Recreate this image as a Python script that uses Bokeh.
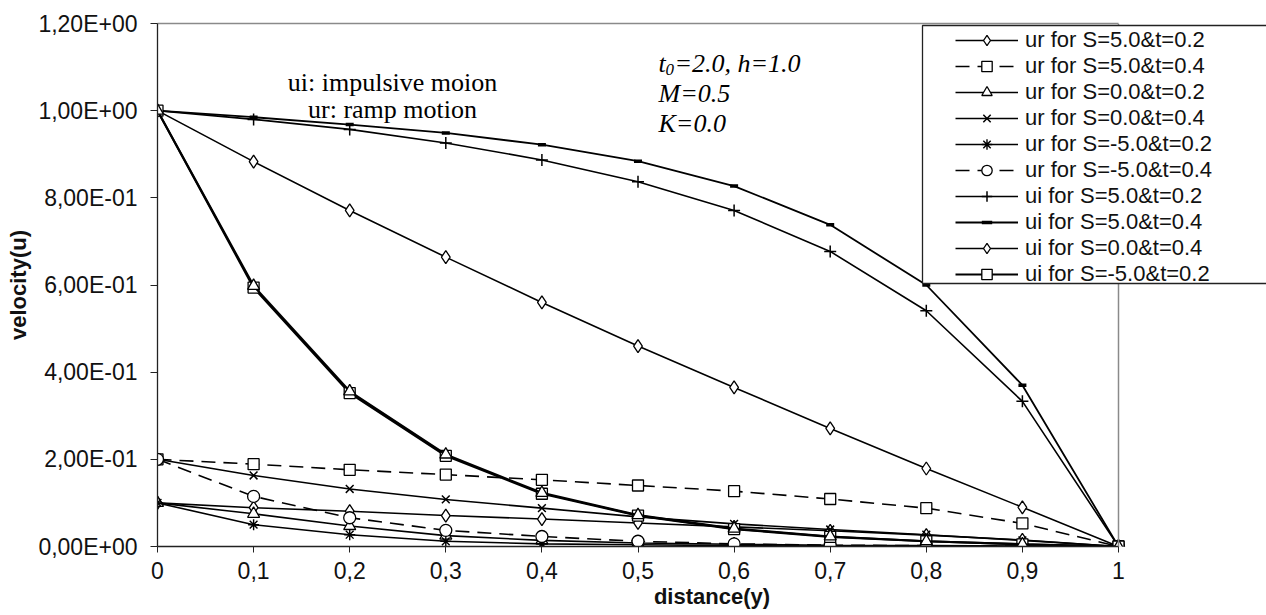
import math
from bokeh.plotting import figure
from bokeh.models import (Range1d, FixedTicker, LinearAxis, Span, Legend, LegendItem,
                          Label, BoxAnnotation, Title)
from bokeh.embed import file_html
from bokeh.resources import INLINE

# ---------------- data ----------------
distance = [0.0, 0.1, 0.2, 0.3, 0.4, 0.5, 0.6, 0.7, 0.8, 0.9, 1.0]
x_tick_labels = ["0", "0,1", "0,2", "0,3", "0,4", "0,5", "0,6", "0,7", "0,8", "0,9", "1"]
y_ticks = [0.0, 0.2, 0.4, 0.6, 0.8, 1.0, 1.2]
y_tick_labels = ["0,00E+00", "2,00E-01", "4,00E-01", "6,00E-01", "8,00E-01", "1,00E+00", "1,20E+00"]

ur_s5_t02 = [0.100, 0.089, 0.081, 0.071, 0.063, 0.054, 0.045, 0.036, 0.026, 0.015, 0.0]
ur_s5_t04 = [0.200, 0.189, 0.176, 0.165, 0.153, 0.140, 0.127, 0.109, 0.088, 0.053, 0.0]
ur_s0_t02 = [0.100, 0.075, 0.047, 0.025, 0.014, 0.008, 0.005, 0.003, 0.002, 0.001, 0.0]
ur_s0_t04 = [0.200, 0.163, 0.132, 0.108, 0.088, 0.068, 0.052, 0.039, 0.027, 0.014, 0.0]
ur_sm5_t02 = [0.100, 0.050, 0.027, 0.012, 0.006, 0.004, 0.002, 0.001, 0.001, 0.0, 0.0]
ur_sm5_t04 = [0.200, 0.115, 0.066, 0.037, 0.023, 0.012, 0.006, 0.003, 0.002, 0.001, 0.0]
ui_s5_t02 = [1.0, 0.980, 0.957, 0.926, 0.887, 0.837, 0.771, 0.677, 0.541, 0.333, 0.0]
ui_s5_t04 = [1.0, 0.985, 0.968, 0.949, 0.922, 0.884, 0.827, 0.738, 0.600, 0.370, 0.0]
ui_s0_t04 = [1.0, 0.883, 0.771, 0.664, 0.560, 0.460, 0.365, 0.271, 0.179, 0.090, 0.0]
ui_sm5_t02 = [1.0, 0.594, 0.352, 0.208, 0.121, 0.071, 0.040, 0.022, 0.012, 0.005, 0.0]
# an extra triangle series drawn on top of the last one (not listed in the legend)
ui_extra_tri = [1.0, 0.598, 0.356, 0.211, 0.123, 0.072, 0.041, 0.023, 0.012, 0.005, 0.0]

series_labels = ["ur for S=5.0&t=0.2", "ur for S=5.0&t=0.4", "ur for S=0.0&t=0.2",
                 "ur for S=0.0&t=0.4", "ur for S=-5.0&t=0.2", "ur for S=-5.0&t=0.4",
                 "ui for S=5.0&t=0.2", "ui for S=5.0&t=0.4", "ui for S=0.0&t=0.4",
                 "ui for S=-5.0&t=0.2"]
series_values = [ur_s5_t02, ur_s5_t04, ur_s0_t02, ur_s0_t04, ur_sm5_t02, ur_sm5_t04,
                 ui_s5_t02, ui_s5_t04, ui_s0_t04, ui_sm5_t02]

# ---------------- styles ----------------
series_markers = ["diamond", "square", "triangle", "x", "asterisk", "circle",
                  "cross", "dash", "diamond", "square"]
series_dash = ["solid", "14 8", "solid", "solid", "solid", "14 8",
               "solid", "solid", "solid", "solid"]
series_width = [1.6, 1.6, 1.6, 1.6, 1.6, 1.6, 1.6, 1.8, 1.6, 2.2]
marker_size = {"diamond": 13, "square": 11, "triangle": 12, "circle": 12, "x": 11,
               "cross": 12, "dash": 8, "asterisk": 11}
marker_lw = {"diamond": 1.3, "square": 1.3, "triangle": 1.3, "circle": 1.3, "x": 1.5,
             "cross": 1.5, "dash": 3.5, "asterisk": 1.4}

# ---------------- layout (pixels) ----------------
W, H = 1266, 615
FL, FT, FB = 157, 23, 546      # frame left / top / bottom
X1PX = 1118                    # pixel of distance = 1
x_end = 1 + (W - X1PX) / (X1PX - FL)

p = figure(width=W, height=H, x_range=Range1d(0, x_end), y_range=Range1d(0, 1.2),
           output_backend="svg", toolbar_location=None,
           min_border_left=FL, min_border_right=0, min_border_top=FT,
           min_border_bottom=H - FB)
p.outline_line_color = None
p.xgrid.visible = False
p.ygrid.visible = False
p.background_fill_color = "white"
p.border_fill_color = "white"

TICK_FONT = "Liberation Sans"

xa = p.xaxis[0]
xa.ticker = FixedTicker(ticks=distance)
xa.major_label_overrides = {v: s for v, s in zip(distance, x_tick_labels)}
xa.bounds = (0, 1)
xa.minor_tick_line_color = None
xa.major_tick_out = 6
xa.major_tick_in = 0
xa.axis_line_color = "#222222"
xa.major_tick_line_color = "#222222"
xa.axis_line_width = 1.3
xa.major_label_text_font = TICK_FONT
xa.major_label_text_font_size = "23px"
xa.major_label_text_color = "#111111"
xa.major_label_standoff = 9

ya = p.yaxis[0]
ya.ticker = FixedTicker(ticks=y_ticks)
ya.major_label_overrides = {v: s for v, s in zip(y_ticks, y_tick_labels)}
ya.minor_tick_line_color = None
ya.major_tick_out = 7
ya.major_tick_in = 0
ya.axis_line_color = "#222222"
ya.major_tick_line_color = "#222222"
ya.axis_line_width = 1.3
ya.major_label_text_font = TICK_FONT
ya.major_label_text_font_size = "23px"
ya.major_label_text_color = "#111111"
ya.major_label_standoff = 13
ya.axis_label = "velocity(u)"
ya.axis_label_text_font = TICK_FONT
ya.axis_label_text_font_style = "bold"
ya.axis_label_text_font_size = "22px"
ya.axis_label_text_color = "#111111"
ya.axis_label_standoff = 4

# x-axis title, placed under the axis and shifted to sit under the plot area
p.add_layout(Title(text="distance(y)", align="center", offset=-57, standoff=0,
                   text_font=TICK_FONT, text_font_size="22px", text_font_style="bold",
                   text_color="#111111"), "below")

# plot-area border (top & right), grey
top_axis = LinearAxis(bounds=(0, 1), ticker=FixedTicker(ticks=[]),
                      axis_line_color="#8a8a8a", axis_line_width=1.5,
                      major_tick_line_color=None, minor_tick_line_color=None,
                      major_label_text_font_size="0px", major_tick_out=0, major_tick_in=0,
                      major_label_standoff=0)
p.add_layout(top_axis, "above")
p.add_layout(Span(location=1, dimension="height", line_color="#8a8a8a", line_width=1.5))


def draw_markers(y, kind):
    return [p.scatter(x=distance, y=y, marker=kind, size=marker_size[kind],
                      line_width=marker_lw[kind], line_color="black", fill_color="white")]


items = []
for lbl, vals, mk, dash, lw in zip(series_labels, series_values, series_markers,
                                   series_dash, series_width):
    ln = p.line(distance, vals, line_color="black", line_width=lw, line_dash=dash)
    ms = draw_markers(vals, mk)
    items.append(LegendItem(label=lbl, renderers=[ln] + ms))

# extra overlapping triangle series (no legend entry)
p.line(distance, ui_extra_tri, line_color="black", line_width=2.2)
draw_markers(ui_extra_tri, "triangle")

# legend box (white, black border) extending beyond the right edge
LEG_L, LEG_T, LEG_B = 922, 25, 283
px_per_x = (X1PX - FL)
px_per_y = (FB - FT) / 1.2
box = BoxAnnotation(left=(LEG_L - FL) / px_per_x, right=x_end * 3,
                    top=(FB - LEG_T) / px_per_y, bottom=(FB - LEG_B) / px_per_y,
                    fill_color="white", fill_alpha=1.0, line_color="#222222",
                    line_width=1.3, line_alpha=1.0)
p.add_layout(box)

ROW = 26
legend = Legend(items=items, location=(955 - FL, FB - (40 - ROW // 2 + 10 * ROW)),
                orientation="vertical", padding=0, spacing=0, margin=0,
                glyph_width=63, glyph_height=ROW, label_height=ROW, label_standoff=7,
                label_text_font=TICK_FONT, label_text_font_size="22px",
                label_text_color="#111111", label_text_baseline="middle",
                border_line_color=None, background_fill_alpha=0.0)
p.add_layout(legend, "center")

# annotations
SERIF = "Liberation Serif"


def lab(text, xpx, ypx, size="26px", style="normal", align="left", font=SERIF):
    p.add_layout(Label(x=xpx - FL, y=FB - ypx, x_units="screen", y_units="screen",
                       text=text, text_font=font, text_font_size=size,
                       text_font_style=style, text_align=align,
                       text_baseline="alphabetic", text_color="black"))


lab("ui: impulsive moion", 392, 82, align="center")
lab("ur: ramp motion", 392, 109, align="center")

lab("t", 658, 63, style="italic")
lab("0", 665, 69, size="17px", style="italic")
lab("=2.0, h=1.0", 674, 63, style="italic")
lab("M=0.5", 658, 93, style="italic")
lab("K=0.0", 658, 123, style="italic")

open("out.html", "w").write(file_html(p, INLINE))
